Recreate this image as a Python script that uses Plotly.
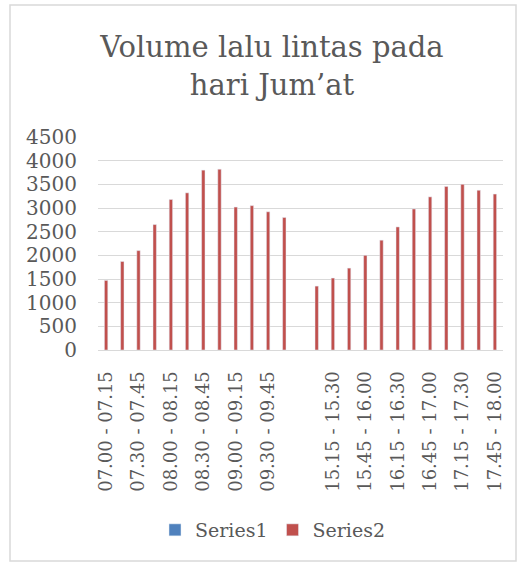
import plotly.graph_objects as go

categories = ["07.00 - 07.15", "07.15 - 07.30", "07.30 - 07.45", "07.45 - 08.00",
              "08.00 - 08.15", "08.15 - 08.30", "08.30 - 08.45", "08.45 - 09.00",
              "09.00 - 09.15", "09.15 - 09.30", "09.30 - 09.45", "09.45 - 10.00",
              " ",
              "15.00 - 15.15", "15.15 - 15.30", "15.30 - 15.45", "15.45 - 16.00",
              "16.00 - 16.15", "16.15 - 16.30", "16.30 - 16.45", "16.45 - 17.00",
              "17.00 - 17.15", "17.15 - 17.30", "17.30 - 17.45", "17.45 - 18.00"]
series1 = [None] * len(categories)
series2 = [1470, 1870, 2100, 2650, 3180, 3320, 3800, 3820, 3020, 3050, 2920, 2800,
           None,
           1350, 1520, 1730, 2000, 2320, 2600, 2980, 3235, 3455, 3500, 3375, 3295]
tick_labels = categories[::2]
y_ticks = list(range(0, 4501, 500))

FONT = "DejaVu Serif"
GREY = "#595959"

fig = go.Figure()
fig.add_trace(go.Bar(x=categories, y=series1, name="Series1", marker_color="#4F81BD", width=0.21))
fig.add_trace(go.Bar(x=categories, y=series2, name="Series2", marker_color="#C0504D", width=0.21))

W, H = 520, 564
L, R, T, B = 98, 17, 137, 214
pw, ph = W - L - R, H - T - B

def px(x):
    return (x - L) / pw

def py(y):
    return (H - B - y) / ph

fig.update_layout(
    width=W, height=H,
    margin=dict(l=L, r=R, t=T, b=B),
    paper_bgcolor="white", plot_bgcolor="white",
    barmode="overlay",
    font=dict(family=FONT, color=GREY, size=19),
    title=dict(text="Volume lalu lintas pada<br>hari Jum’at", x=272 / W, xanchor="center",
               y=1 - 57 / H, yanchor="top", font=dict(size=29, color=GREY, family=FONT)),
    xaxis=dict(type="category", categoryorder="array", categoryarray=categories,
               tickmode="array", tickvals=tick_labels, ticktext=tick_labels,
               tickangle=-90, tickfont=dict(size=18, color=GREY), showgrid=False,
               showline=True, linecolor="#D9D9D9", linewidth=1, ticks="",
               ticklabelstandoff=13),
    yaxis=dict(range=[0, 4500], tickvals=y_ticks, tickfont=dict(size=20, color=GREY),
               showgrid=True, gridcolor="#D9D9D9", gridwidth=1, zeroline=False,
               showline=False, ticks="", ticklabelstandoff=20),
    legend=dict(orientation="h", x=273 / W, xanchor="center", xref="container",
                y=1 - 511 / H, yref="container", yanchor="top",
                font=dict(size=19, color=GREY), itemwidth=30),
    showlegend=True,
    shapes=[dict(type="rect", xref="paper", yref="paper",
                 x0=px(10), x1=px(516), y0=py(561), y1=py(5),
                 line=dict(color="#D9D9D9", width=1.5), fillcolor="rgba(0,0,0,0)",
                 layer="below")],
)

fig.write_html("out.html", config={"displayModeBar": False},
               post_script="document.body.style.margin='0';")
